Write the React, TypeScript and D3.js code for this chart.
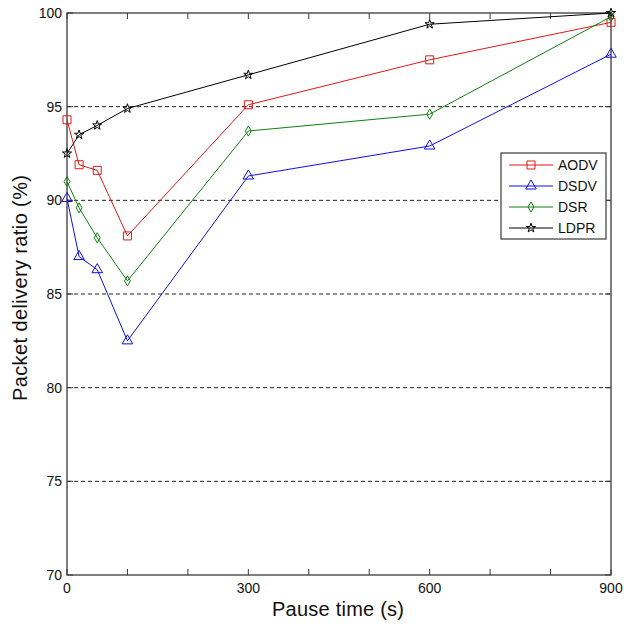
import { useEffect, useRef } from "react";
import * as d3 from "d3";

// pause time (s)
const pauseTimes = [0, 20, 50, 100, 300, 600, 900];

// packet delivery ratio (%) per protocol
const aodv = [94.3, 91.9, 91.6, 88.1, 95.1, 97.5, 99.5];
const dsdv = [90.1, 87.0, 86.3, 82.5, 91.3, 92.9, 97.8];
const dsr = [91.0, 89.6, 88.0, 85.7, 93.7, 94.6, 99.8];
const ldpr = [92.5, 93.5, 94.0, 94.9, 96.7, 99.4, 100];

const xTicks = [0, 100, 200, 300, 400, 500, 600, 700, 800, 900];
const xTickLabels = [0, 300, 600, 900];
const yTicks = [70, 75, 80, 85, 90, 95, 100];

const seriesList = [
  { name: "AODV", values: aodv, color: "#e01818", symbol: d3.symbolSquare, size: 64 },
  { name: "DSDV", values: dsdv, color: "#1010e0", symbol: d3.symbolTriangle, size: 48 },
  { name: "DSR", values: dsr, color: "#108010", symbol: d3.symbolDiamond, size: 30 },
  { name: "LDPR", values: ldpr, color: "#000000", symbol: d3.symbolStar, size: 26 },
];

export default function App() {
  const ref = useRef<SVGSVGElement>(null);

  const width = 624;
  const height = 624;
  const margin = { top: 13, right: 13, bottom: 49, left: 67 };
  const innerWidth = width - margin.left - margin.right;
  const innerHeight = height - margin.top - margin.bottom;

  useEffect(() => {
    const svg = d3.select(ref.current);
    svg.selectAll("*").remove();

    const font = "Arial, 'Liberation Sans', sans-serif";
    const axisColor = "#3a3a3a";

    const x = d3.scaleLinear([0, 900], [0, innerWidth]);
    const y = d3.scaleLinear([70, 100], [innerHeight, 0]);

    const g = svg.append("g").attr("transform", `translate(${margin.left},${margin.top})`);

    // dashed grid at labelled y levels
    g.selectAll("line.grid")
      .data(yTicks.filter((t) => t > 70 && t < 100))
      .join("line")
      .attr("class", "grid")
      .attr("x1", 0)
      .attr("x2", innerWidth)
      .attr("y1", (d) => y(d))
      .attr("y2", (d) => y(d))
      .attr("stroke", "#222")
      .attr("stroke-width", 1)
      .attr("stroke-dasharray", "4,3");

    // box
    g.append("rect")
      .attr("width", innerWidth)
      .attr("height", innerHeight)
      .attr("fill", "none")
      .attr("stroke", axisColor)
      .attr("stroke-width", 1.3);

    const tickLen = 6;
    // x ticks bottom & top (inward)
    xTicks.forEach((t) => {
      g.append("line").attr("x1", x(t)).attr("x2", x(t)).attr("y1", innerHeight).attr("y2", innerHeight - tickLen).attr("stroke", axisColor);
      g.append("line").attr("x1", x(t)).attr("x2", x(t)).attr("y1", 0).attr("y2", tickLen).attr("stroke", axisColor);
    });
    yTicks.forEach((t) => {
      g.append("line").attr("x1", 0).attr("x2", tickLen).attr("y1", y(t)).attr("y2", y(t)).attr("stroke", axisColor);
      g.append("line").attr("x1", innerWidth).attr("x2", innerWidth - tickLen).attr("y1", y(t)).attr("y2", y(t)).attr("stroke", axisColor);
    });

    g.selectAll("text.xlab")
      .data(xTickLabels)
      .join("text")
      .attr("class", "xlab")
      .attr("x", (d) => x(d))
      .attr("y", innerHeight + 18)
      .attr("text-anchor", "middle")
      .attr("font-family", font)
      .attr("font-size", 14)
      .attr("fill", "#111")
      .text((d) => d);

    g.selectAll("text.ylab")
      .data(yTicks)
      .join("text")
      .attr("class", "ylab")
      .attr("x", -5)
      .attr("y", (d) => y(d))
      .attr("dy", "0.36em")
      .attr("text-anchor", "end")
      .attr("font-family", font)
      .attr("font-size", 14)
      .attr("fill", "#111")
      .text((d) => d);

    // series lines + markers
    const line = d3
      .line<number>()
      .x((_, i) => x(pauseTimes[i]))
      .y((d) => y(d));

    seriesList.forEach((s) => {
      g.append("path")
        .attr("d", line(s.values))
        .attr("fill", "none")
        .attr("stroke", s.color)
        .attr("stroke-width", 1);
      g.selectAll(null)
        .data(s.values)
        .join("path")
        .attr("transform", (d, i) => `translate(${x(pauseTimes[i])},${y(d)})`)
        .attr("d", d3.symbol(s.symbol, s.size)())
        .attr("fill", "none")
        .attr("stroke", s.color)
        .attr("stroke-width", 1);
    });

    // legend
    const legend = svg.append("g").attr("transform", "translate(501,153)");
    legend.append("rect")
      .attr("width", 105)
      .attr("height", 86)
      .attr("fill", "#fff")
      .attr("stroke", axisColor)
      .attr("stroke-width", 1.2);
    seriesList.forEach((s, i) => {
      const ly = 12 + i * 21;
      legend.append("line").attr("x1", 8).attr("x2", 52).attr("y1", ly).attr("y2", ly).attr("stroke", s.color);
      legend.append("path")
        .attr("transform", `translate(30,${ly})`)
        .attr("d", d3.symbol(s.symbol, s.size)())
        .attr("fill", "none")
        .attr("stroke", s.color);
      legend.append("text")
        .attr("x", 57)
        .attr("y", ly)
        .attr("dy", "0.36em")
        .attr("font-family", font)
        .attr("font-size", 14)
        .attr("fill", "#111")
        .text(s.name);
    });

    // axis titles
    svg.append("text")
      .attr("x", 338)
      .attr("y", 616)
      .attr("text-anchor", "middle")
      .attr("font-family", font)
      .attr("font-size", 20)
      .attr("textLength", 132)
      .attr("fill", "#111")
      .text("Pause time (s)");

    svg.append("text")
      .attr("transform", "translate(27,288) rotate(-90)")
      .attr("text-anchor", "middle")
      .attr("font-family", font)
      .attr("font-size", 20)
      .attr("textLength", 226)
      .attr("fill", "#111")
      .text("Packet delivery ratio (%)");
  }, []);

  return (
    <svg
      ref={ref}
      width={width}
      height={height}
      style={{ position: "absolute", left: 0, top: 0, background: "#fff" }}
    />
  );
}
